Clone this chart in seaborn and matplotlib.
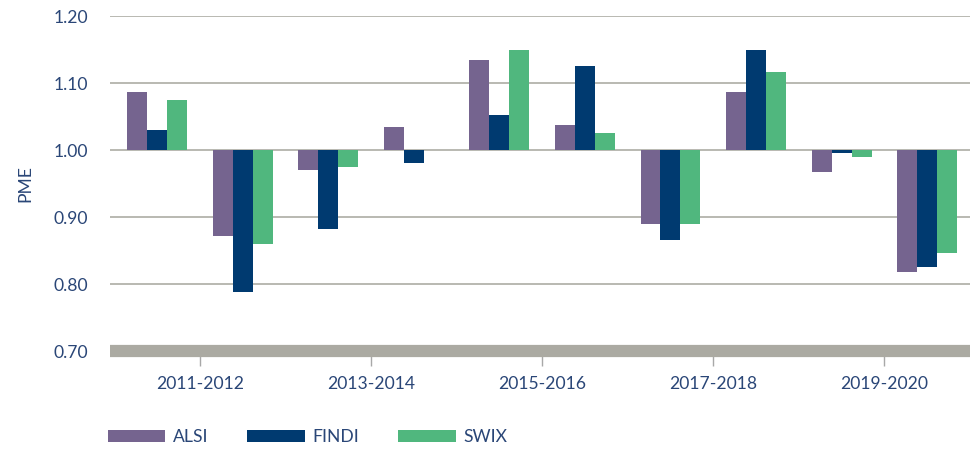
import pandas as pd
import seaborn as sns
import matplotlib.pyplot as plt
from matplotlib.ticker import FuncFormatter

# Dados (PME por ano)
years = ['2011', '2012', '2013', '2014', '2015', '2016', '2017', '2018', '2019', '2020']
alsi = [1.087, 0.871, 0.970, 1.035, 1.135, 1.038, 0.890, 1.087, 0.967, 0.818]
findi = [1.030, 0.788, 0.882, 0.980, 1.052, 1.126, 0.865, 1.150, 0.996, 0.825]
swix = [1.075, 0.859, 0.974, 1.000, 1.150, 1.026, 0.890, 1.117, 0.989, 0.847]
series = ['ALSI', 'FINDI', 'SWIX']
pair_labels = ['2011-2012', '2013-2014', '2015-2016', '2017-2018', '2019-2020']
y_ticks = [0.70, 0.80, 0.90, 1.00, 1.10, 1.20]
base = 1.0

colors = ['#75648f', '#003a70', '#50b77e']
text_color = '#2a4677'
grid_color = '#b3b3ab'
band_color = '#abaaa2'

df = pd.DataFrame({
    'Ano': years * 3,
    'Indice': [s for s in series for _ in years],
    'PME': alsi + findi + swix,
})
# barras partem de 1.00
df['desvio'] = df['PME'] - base

sns.set_theme(style='white')
plt.rcParams['font.family'] = ['Lato', 'DejaVu Sans']

fig = plt.figure(figsize=(9.77, 4.51), dpi=100)
ax = fig.add_axes([0.1126, 0.2217, 0.8802, 0.7428])

sns.barplot(data=df, x='Ano', y='desvio', hue='Indice', palette=colors,
            width=0.7, saturation=1, linewidth=0, ax=ax)

ax.set_ylim(y_ticks[0] - base, y_ticks[-1] - base)
ax.set_yticks([t - base for t in y_ticks])
ax.yaxis.set_major_formatter(FuncFormatter(lambda v, p: f'{v + base:.2f}'))
ax.set_xlim(-0.55, 9.5)
ax.set_xticks([0.5, 2.5, 4.5, 6.5, 8.5])
ax.set_xticklabels(pair_labels)

ax.set_axisbelow(True)
ax.yaxis.grid(True, color=grid_color, linewidth=1.3)
ax.xaxis.grid(False)
for sp in ax.spines.values():
    sp.set_visible(False)

# faixa cinza na base
ax.axhline(y_ticks[0] - base, color=band_color, linewidth=8.8, clip_on=False,
           zorder=3, solid_capstyle='butt')

ax.tick_params(axis='x', length=11, width=1, color='#a8a8a8', pad=7,
               labelsize=12.6, labelcolor=text_color, bottom=True)
ax.tick_params(axis='y', length=0, pad=16, labelsize=12.6, labelcolor=text_color)

ax.set_xlabel('')
ax.set_ylabel('PME', fontsize=12.6, color=text_color, labelpad=14)

sns.move_legend(ax, loc='center left', bbox_to_anchor=(0.094, 0.031),
                bbox_transform=fig.transFigure, ncol=3, frameon=False, title=None,
                fontsize=12.6, handlelength=3.3, handleheight=0.75,
                handletextpad=0.45, columnspacing=2.2, labelcolor=text_color)

plt.savefig('out.png', dpi=100)
